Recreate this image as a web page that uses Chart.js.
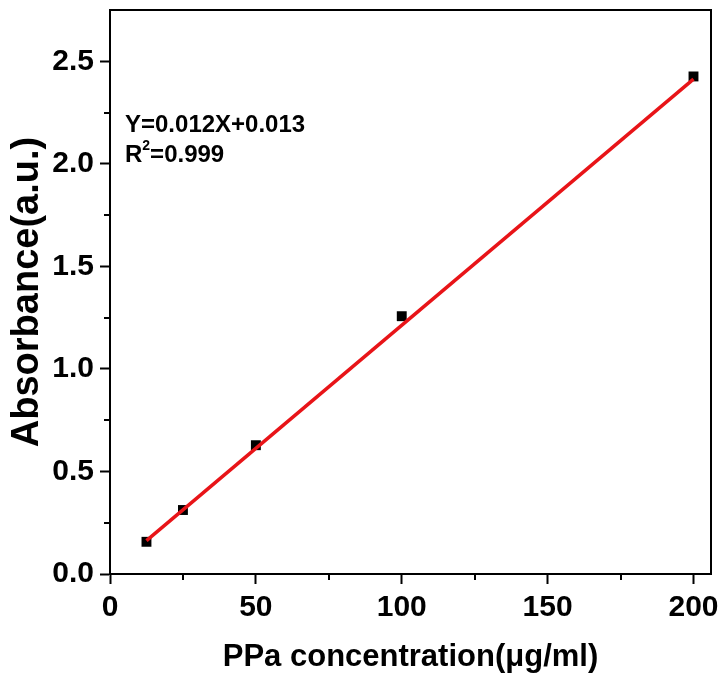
<!DOCTYPE html>
<html>
<head>
<meta charset="utf-8">
<script src="https://cdn.jsdelivr.net/npm/chart.js@4.4.1/dist/chart.umd.min.js"></script>
<style>
  html, body { margin: 0; padding: 0; background: #ffffff; }
  #wrap { width: 718px; height: 680px; }
</style>
</head>
<body>
<div id="wrap"><canvas id="c" width="718" height="680"></canvas></div>
<script>
// ---- data ----
const concentrations = [12.5, 25, 50, 100, 200];
const absorbances = [0.157, 0.312, 0.628, 1.257, 2.426];
const fitX = [12.5, 200];
const fitY = [0.163, 2.413];
const xMajorTicks = [0, 50, 100, 150, 200];
const xMinorTicks = [25, 75, 125, 175];
const yMajorTicks = [0.0, 0.5, 1.0, 1.5, 2.0, 2.5];
const yMinorTicks = [0.25, 0.75, 1.25, 1.75, 2.25];
const xTitle = "PPa concentration(μg/ml)";
const yTitle = "Absorbance(a.u.)";
const equationText = "Y=0.012X+0.013";
const r2Prefix = "R";
const r2Sup = "2";
const r2Value = "=0.999";

const FONT = '"Liberation Sans", Arial, sans-serif';

function zeroPad(s) { s.paddingLeft = 0; s.paddingRight = 0; s.paddingTop = 0; s.paddingBottom = 0; }

const boxAndMinorTicks = {
  id: 'boxAndMinorTicks',
  afterDraw(chart) {
    const {ctx, chartArea: a, scales: {x, y}} = chart;
    ctx.save();
    ctx.strokeStyle = '#000';
    ctx.lineWidth = 2;
    ctx.beginPath();
    ctx.moveTo(a.left, a.top);
    ctx.lineTo(a.right, a.top);
    ctx.lineTo(a.right, a.bottom);
    ctx.stroke();
    ctx.beginPath();
    xMinorTicks.forEach(v => {
      const px = Math.round(x.getPixelForValue(v));
      ctx.moveTo(px, a.bottom);
      ctx.lineTo(px, a.bottom + 6);
    });
    yMinorTicks.forEach(v => {
      const py = Math.round(y.getPixelForValue(v));
      ctx.moveTo(a.left, py);
      ctx.lineTo(a.left - 6, py);
    });
    ctx.stroke();
    ctx.restore();
  }
};

const equationLabel = {
  id: 'equationLabel',
  afterDraw(chart) {
    const {ctx, chartArea: a} = chart;
    ctx.save();
    ctx.fillStyle = '#000';
    ctx.textBaseline = 'alphabetic';
    ctx.textAlign = 'left';
    ctx.font = 'bold 24px ' + FONT;
    const x0 = a.left + 15;
    ctx.fillText(equationText, x0, a.top + 122);
    ctx.fillText(r2Prefix, x0, a.top + 152);
    const w = ctx.measureText(r2Prefix).width;
    ctx.font = 'bold 14px ' + FONT;
    ctx.fillText(r2Sup, x0 + w, a.top + 140);
    const w2 = ctx.measureText(r2Sup).width;
    ctx.font = 'bold 24px ' + FONT;
    ctx.fillText(r2Value, x0 + w + w2, a.top + 152);
    ctx.restore();
  }
};

new Chart(document.getElementById('c'), {
  type: 'scatter',
  data: {
    datasets: [
      {
        label: 'Data',
        data: concentrations.map((v, i) => ({x: v, y: absorbances[i]})),
        pointStyle: 'rect',
        pointRadius: 7,
        pointHoverRadius: 7,
        backgroundColor: '#000',
        borderColor: '#000',
        borderWidth: 0,
        showLine: false,
        order: 2
      },
      {
        label: 'Fit',
        data: fitX.map((v, i) => ({x: v, y: fitY[i]})),
        showLine: true,
        borderColor: 'rgb(232,20,24)',
        borderWidth: 3.5,
        pointRadius: 0,
        fill: false,
        order: 1
      }
    ]
  },
  options: {
    responsive: false,
    animation: false,
    events: [],
    layout: { padding: { left: 0, top: 10, right: 2, bottom: 0 } },
    plugins: { legend: { display: false }, tooltip: { enabled: false } },
    scales: {
      x: {
        type: 'linear',
        min: 0,
        max: 206,
        afterBuildTicks: s => { s.ticks = xMajorTicks.map(v => ({value: v})); },
        afterFit: s => { s.height = 106; zeroPad(s); },
        ticks: {
          autoSkip: false,
          maxRotation: 0,
          color: '#000',
          padding: 6,
          font: { family: FONT, size: 30, weight: 'bold' },
          callback: v => String(v)
        },
        grid: { drawOnChartArea: false, drawTicks: true, tickLength: 10, tickWidth: 2, tickColor: '#000' },
        border: { display: true, color: '#000', width: 2 },
        title: {
          display: true,
          text: xTitle,
          color: '#000',
          font: { family: FONT, size: 31, weight: 'bold' },
          padding: { top: 0, bottom: 4 }
        }
      },
      y: {
        type: 'linear',
        min: 0,
        max: 2.75,
        afterBuildTicks: s => { s.ticks = yMajorTicks.map(v => ({value: v})); },
        afterFit: s => { s.width = 110; zeroPad(s); },
        ticks: {
          autoSkip: false,
          color: '#000',
          padding: 6,
          font: { family: FONT, size: 30, weight: 'bold' },
          callback: v => Number(v).toFixed(1)
        },
        grid: { drawOnChartArea: false, drawTicks: true, tickLength: 10, tickWidth: 2, tickColor: '#000' },
        border: { display: true, color: '#000', width: 2 },
        title: {
          display: true,
          text: yTitle,
          color: '#000',
          font: { family: FONT, size: 38, weight: 'bold' },
          padding: { top: 5, bottom: 0 }
        }
      }
    }
  },
  plugins: [boxAndMinorTicks, equationLabel]
});
</script>
</body>
</html>
